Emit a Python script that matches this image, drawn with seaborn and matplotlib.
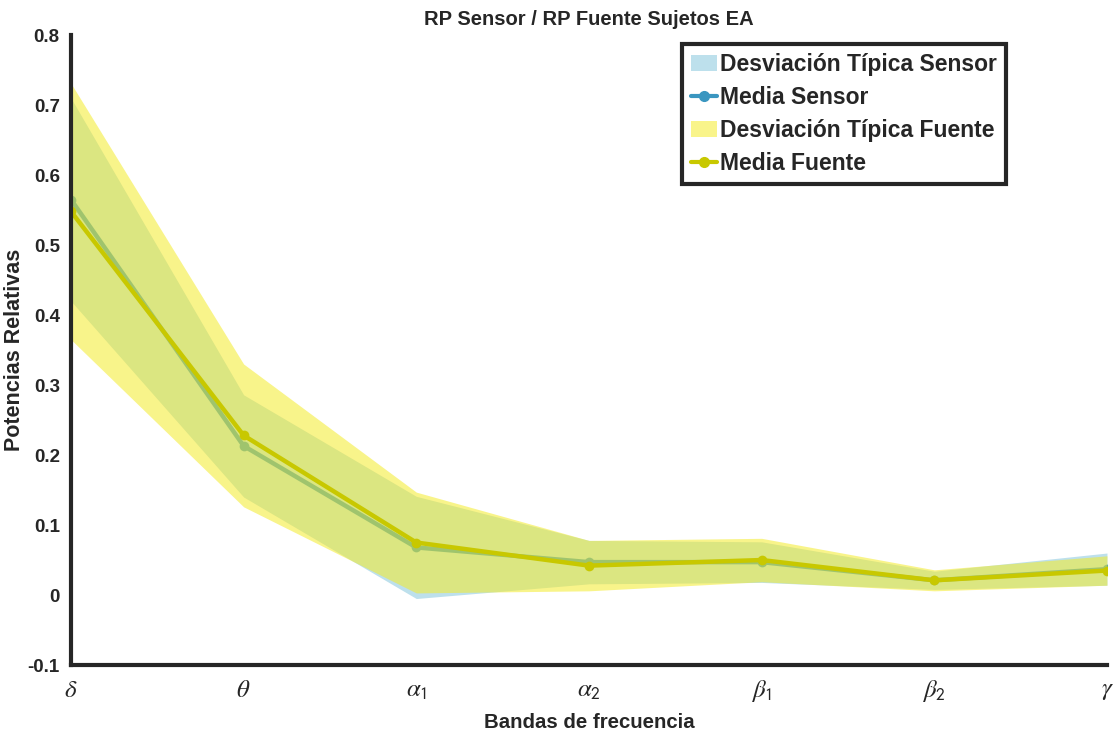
import numpy as np
import pandas as pd
import matplotlib
matplotlib.use("Agg")
import matplotlib.pyplot as plt
import seaborn as sns
from matplotlib.patches import Patch
from matplotlib.lines import Line2D
from matplotlib.ticker import FormatStrFormatter

# Frequency bands and relative power statistics
bands = [r"$\delta$", r"$\theta$", r"$\alpha_{\mathsf{1}}$", r"$\alpha_{\mathsf{2}}$",
         r"$\beta_{\mathsf{1}}$", r"$\beta_{\mathsf{2}}$", r"$\gamma$"]
sensor_mean = [0.565, 0.213, 0.068, 0.047, 0.047, 0.021, 0.037]
sensor_std = [0.145, 0.073, 0.073, 0.031, 0.029, 0.013, 0.023]
fuente_mean = [0.548, 0.228, 0.075, 0.042, 0.050, 0.021, 0.035]
fuente_std = [0.183, 0.102, 0.072, 0.036, 0.031, 0.015, 0.021]

sns.set_style("white")
plt.rcParams["font.family"] = ["Liberation Sans", "DejaVu Sans"]
plt.rcParams["mathtext.fontset"] = "stix"

x = np.arange(len(bands))
s_mean = np.array(sensor_mean)
s_std = np.array(sensor_std)
f_mean = np.array(fuente_mean)
f_std = np.array(fuente_std)

df = pd.DataFrame({
    "x": np.concatenate([x, x]),
    "valor": np.concatenate([s_mean, f_mean]),
    "serie": ["Sensor"] * len(x) + ["Fuente"] * len(x),
})

sensor_fill = "#bde0ec"
sensor_line = "#3a96c0"
fuente_fill = (244 / 255, 235 / 255, 42 / 255)
fuente_line = "#c8c800"
ink = "#262626"

fig = plt.figure(figsize=(11.14, 7.39), dpi=100)
ax = fig.add_axes([0.0637, 0.1001, 0.930, 0.8525])

# Sensor: spread band then mean
ax.fill_between(x, s_mean - s_std, s_mean + s_std, color=sensor_fill, lw=0, zorder=1)
sns.lineplot(data=df[df.serie == "Sensor"], x="x", y="valor", ax=ax, color=sensor_line,
             lw=3.2, marker="o", markersize=7, markeredgewidth=0, zorder=2)

# Fuente: translucent band over the sensor layer, then mean on top
ax.fill_between(x, f_mean - f_std, f_mean + f_std, color=fuente_fill, alpha=0.55, lw=0, zorder=3)
sns.lineplot(data=df[df.serie == "Fuente"], x="x", y="valor", ax=ax, color=fuente_line,
             lw=3.2, marker="o", markersize=7, markeredgewidth=0, zorder=4)

ax.set_xlim(0, len(bands) - 1)
ax.set_ylim(-0.1, 0.8)
ax.set_yticks(np.round(np.arange(-0.1, 0.81, 0.1), 1))
ax.yaxis.set_major_formatter(FormatStrFormatter("%g"))
ax.set_xticks(x)
ax.set_xticklabels(bands, fontsize=18)

for side in ["top", "right"]:
    ax.spines[side].set_visible(False)
for side in ["left", "bottom"]:
    ax.spines[side].set_linewidth(3)
    ax.spines[side].set_color(ink)
    ax.spines[side].set_zorder(5)

ax.tick_params(axis="both", direction="in", length=10, width=3, color=ink)
ax.tick_params(axis="y", labelsize=13.5, pad=8)
ax.tick_params(axis="x", pad=9)
for lab in ax.get_yticklabels():
    lab.set_fontweight("bold")
    lab.set_color(ink)

ax.set_title("RP Sensor / RP Fuente Sujetos EA", fontsize=14.5, fontweight="bold", pad=7)
ax.set_xlabel("Bandas de frecuencia", fontsize=14.7, fontweight="bold", color=ink, labelpad=7)
ax.set_ylabel("Potencias Relativas", fontsize=15.5, fontweight="bold", color=ink)
ax.yaxis.set_label_coords(-0.044, 0.5)

handles = [
    Patch(facecolor=sensor_fill, edgecolor="none"),
    Line2D([], [], color=sensor_line, lw=3, marker="o", markersize=7),
    Patch(facecolor=(249 / 255, 244 / 255, 138 / 255), edgecolor="none"),
    Line2D([], [], color=fuente_line, lw=3, marker="o", markersize=7),
]
labels = ["Desviación Típica Sensor", "Media Sensor", "Desviación Típica Fuente", "Media Fuente"]
leg = ax.legend(handles, labels, loc="upper right", bbox_to_anchor=(0.9025, 0.9857),
                fancybox=False, framealpha=1, edgecolor=ink,
                prop={"weight": "bold", "size": 16.5}, handlelength=1.15,
                handletextpad=0.12, borderpad=0.4, labelspacing=0.43, borderaxespad=0)
leg.get_frame().set_linewidth(3)

fig.savefig("out.png", dpi=100)
